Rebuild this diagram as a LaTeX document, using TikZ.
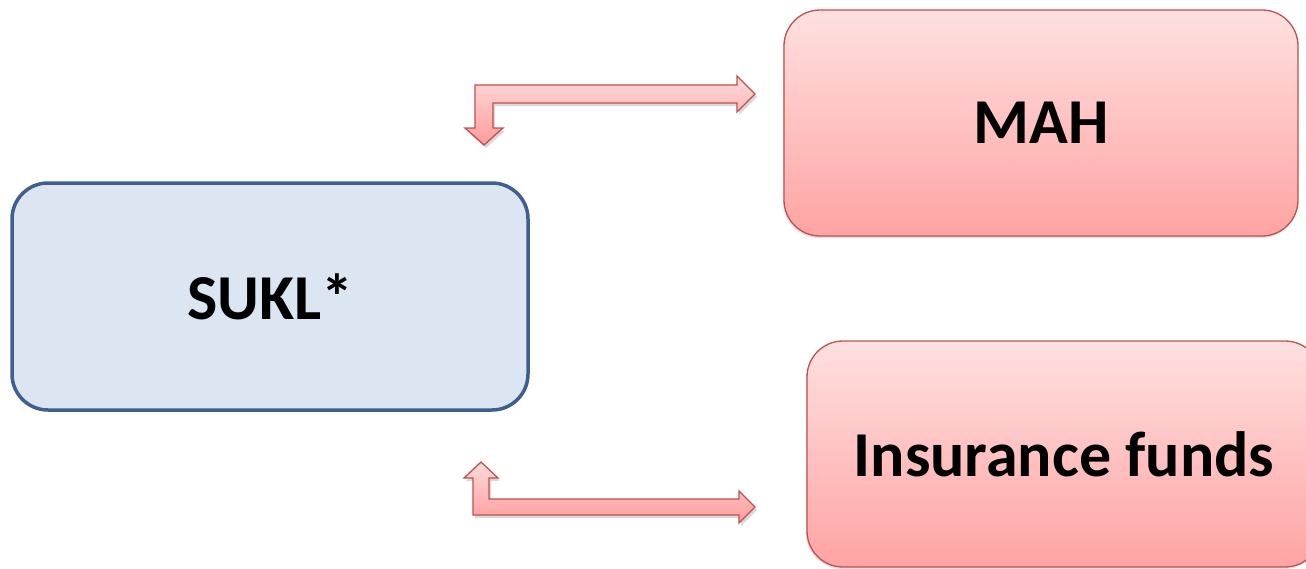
\documentclass[tikz,border=0pt]{standalone}
\usepackage{fontspec}
\setmainfont{Carlito}
\usetikzlibrary{shadows}
\definecolor{sukfill}{HTML}{DCE6F2}
\definecolor{sukline}{HTML}{3F5F8E}
\definecolor{redtop}{HTML}{FFE0E0}
\definecolor{redbot}{HTML}{FFA3A3}
\definecolor{redline}{HTML}{C0504D}
\definecolor{arrtop}{HTML}{FFDADA}
\definecolor{arrbot}{HTML}{FF9C9C}
\tikzset{
  box/.style={rectangle, rounded corners=36pt, minimum width=514pt, minimum height=226pt,
    font=\fontsize{64}{66}\selectfont\bfseries, text=black, inner sep=0pt},
  bluebox/.style={box, fill=sukfill, draw=sukline, line width=3.5pt},
  redbox/.style={box, top color=redtop, bottom color=redbot, draw=redline, line width=1.3pt,
    drop shadow={shadow xshift=-1pt, shadow yshift=-2pt, opacity=.2, fill=black!60}},
  blockarrow/.style={top color=arrtop, bottom color=arrbot, draw=redline, line width=1.3pt, line join=miter,
    drop shadow={shadow xshift=2pt, shadow yshift=-3pt, opacity=.25, fill=black!60}}
}
\begin{document}
\begin{tikzpicture}[x=1pt,y=-1pt]
\useasboundingbox (0,0) rectangle (1306,568);
\clip (0,0) rectangle (1306,568);
\node[bluebox, minimum width=516pt, minimum height=227pt] (sukl) at (270,296.5) {SUKL*};
\node[redbox] (mah) at (1041,123) {MAH};
\node[redbox] (ins) at (1064,454) {Insurance funds};
% upper double block arrow
\path[blockarrow] (475,85) -- (737,85) -- (737,76) -- (755,94) -- (737,112) -- (737,103)
  -- (493,103) -- (493,128) -- (503,128) -- (484,145) -- (465,128) -- (475,128) -- cycle;
% lower double block arrow
\path[blockarrow] (473,515) -- (739,515) -- (739,523) -- (755,507) -- (739,491) -- (739,499)
  -- (489,499) -- (489,478) -- (498,478) -- (481,462) -- (464,478) -- (473,478) -- cycle;
\end{tikzpicture}
\end{document}
